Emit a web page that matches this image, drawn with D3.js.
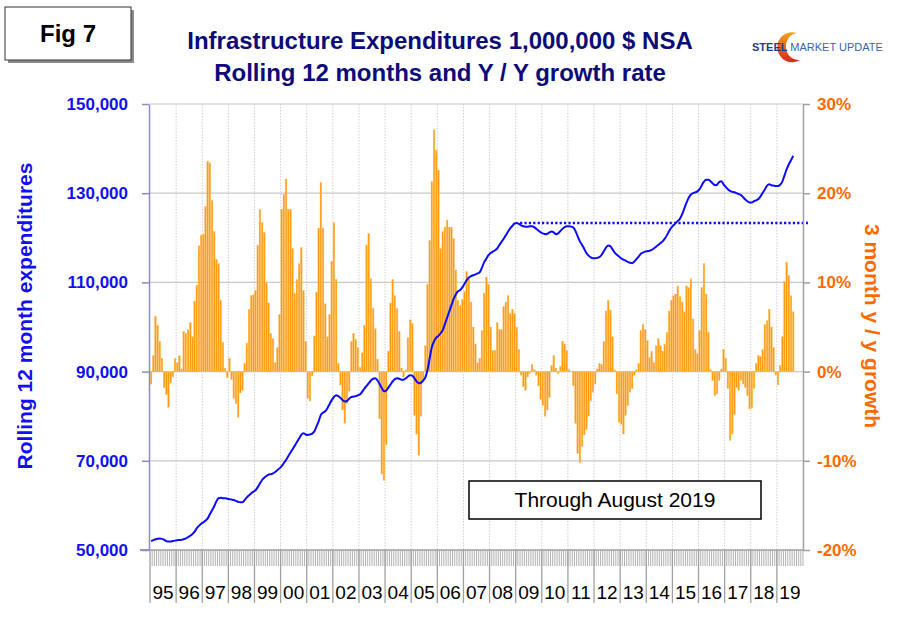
<!DOCTYPE html>
<html>
<head>
<meta charset="utf-8">
<script src="https://cdn.jsdelivr.net/npm/d3@7"></script>
<style>
  body { margin: 0; background: #fff; }
  text { font-family: "Liberation Sans", Arial, sans-serif; }
</style>
</head>
<body>
<div id="chart"></div>
<script>
// Data (Jan 1995 .. Aug 2019, monthly)
var years = ["95","96","97","98","99","00","01","02","03","04","05","06","07",
             "08","09","10","11","12","13","14","15","16","17","18","19"];

// rolling 12 month expenditures, $ millions
var expend = [
  52000,52200,52400,52500,52600,52500,52300,52000,51900,51900,52000,52100,
  52200,52250,52300,52400,52600,52900,53200,53600,54100,54900,55400,55900,
  56200,56600,57100,58000,58900,59800,60900,61600,61700,61600,61600,61500,
  61400,61300,61200,61000,60800,60700,60700,61200,61800,62300,62700,63100,
  63400,64100,64900,65700,66200,66600,66900,67000,67200,67500,67900,68300,
  68800,69500,70200,71000,71800,72600,73400,74200,75000,75800,76200,75900,
  75800,75900,76100,76600,77700,78900,80300,80800,81100,81800,82700,83600,
  84300,84700,84500,84100,83600,83300,83400,83900,84300,84400,84500,84700,
  84900,85500,86200,86800,87400,88000,88400,88500,88000,87200,86300,85600,
  85700,86400,87100,87800,88300,88500,88400,88200,88200,88500,88900,89200,
  89100,88500,87800,87400,87500,88000,88700,90400,93000,95500,96800,97600,
  98000,98600,99300,100700,102100,103500,104900,106300,107300,108000,108300,108900,
  109700,110500,111100,111400,111600,111800,112000,112300,113300,114500,115300,116100,
  116600,116900,117200,117600,118400,119100,119800,120600,121400,122100,122700,123200,
  123300,123100,122800,122600,122500,122500,122600,122600,122400,122000,121600,121200,
  121000,120800,120900,121200,121400,121200,120800,121000,121500,122000,122400,122600,
  122600,122500,122300,121500,120300,119200,118400,117500,116600,116000,115600,115400,
  115400,115500,115700,116200,117000,117800,118300,118100,117400,116700,116200,115800,
  115400,115100,114900,114600,114400,114300,114700,115200,115800,116400,116700,116900,
  117000,117100,117300,117600,118000,118400,118800,119200,119800,120600,121500,122300,
  122800,123300,123800,124300,125300,126600,127900,129000,129700,130000,130200,130400,
  130900,131800,132600,133000,133000,132700,132200,131800,131900,132500,132700,132000,
  131400,130900,130500,130300,130200,130000,129800,129600,129100,128600,128200,127900,
  127900,128200,128400,128700,129300,130100,130900,131700,132000,131800,131700,131600,
  131600,131900,132600,134000,135400,136500,137400,138400
];

// 3 month y/y growth, percent
var growth = [
  -1.4,1.8,6.2,5.2,3.4,1.5,-1.8,-2.6,-4.0,-1.3,-0.6,1.5,
  1.0,1.8,0.3,4.5,4.3,4.7,5.5,3.9,7.9,9.7,14.1,15.3,
  15.4,18.5,23.6,23.4,19.2,15.7,12.6,12.1,8.0,3.3,0.4,-0.7,
  1.5,-0.9,-3.0,-3.6,-5.1,-2.4,-2.1,0.9,3.2,7.0,8.5,8.6,
  9.1,14.2,18.2,16.7,15.6,10.0,7.7,4.3,3.7,1.0,2.7,6.4,
  18.2,19.9,21.6,18.2,18.2,13.8,8.8,10.3,12.1,13.9,9.1,3.4,
  -3.0,-3.3,-0.5,4.0,8.9,16.1,21.2,16.1,7.6,3.9,6.4,12.4,
  16.7,10.3,0.9,-1.5,-4.3,-5.8,-3.6,-2.2,3.4,4.3,3.6,2.7,
  0.5,2.1,5.2,14.2,15.5,10.4,7.1,4.8,1.4,-5.3,-11.5,-12.2,
  -8.2,2.3,7.7,10.3,8.5,7.1,4.5,0.4,-0.6,0.2,3.8,5.8,
  5.4,-4.9,-7.0,-9.4,-5.0,-1.0,2.9,9.8,14.7,21.3,27.1,24.8,
  22.6,13.8,15.7,16.2,17.0,16.2,16.2,14.9,11.4,8.0,7.4,8.1,
  9.0,11.2,10.4,7.8,5.0,3.1,1.0,1.5,4.6,8.8,10.6,9.8,
  5.0,2.4,2.4,5.5,4.7,4.7,7.3,7.8,8.5,6.5,7.0,6.5,
  5.0,2.5,-0.4,-1.7,-2.1,-0.6,-0.2,0.8,0.2,-0.4,-1.6,-3.1,
  -3.8,-5.0,-4.3,-2.9,0.7,1.8,0.4,-0.2,0.6,3.4,3.1,2.4,
  0.2,0.0,-1.6,-5.8,-9.2,-10.2,-8.4,-7.1,-6.5,-5.0,-3.3,-2.3,
  -1.4,0.3,0.9,0.8,3.4,6.8,8.0,6.9,3.9,0.2,-2.5,-5.7,
  -5.9,-7.0,-4.9,-3.8,-2.3,-1.9,-0.4,0.2,0.9,4.6,5.3,4.7,
  3.5,1.6,2.3,1.0,2.9,3.7,2.9,2.3,3.1,4.4,6.8,8.0,
  8.5,8.7,9.6,8.4,7.8,6.7,9.6,9.4,10.4,5.9,2.5,2.0,
  4.6,9.4,12.1,8.7,4.4,0.2,-1.0,-2.7,-2.5,-1.0,0.3,2.5,
  1.5,-1.9,-7.7,-7.0,-4.8,-1.8,-2.1,-1.0,-1.4,-1.8,-2.7,-4.2,
  -4.1,-1.9,0.9,1.8,1.7,2.5,5.3,5.7,7.0,5.0,2.7,-0.4,
  -1.5,0.7,3.9,10.1,12.3,10.8,8.5,6.7
];

var leftTicks = [50000, 70000, 90000, 110000, 130000, 150000];
var rightTicks = [-0.2, -0.1, 0, 0.1, 0.2, 0.3];
var priorPeak = 123300;     // level of the dotted line
var priorPeakMonth = 170;   // dotted line starts here

var svgWidth = 910;
var svgHeight = 622;
var plot = { left: 150, right: 803, top: 104, bottom: 550 };

var svg = d3.select("#chart")
  .append("svg")
  .attr("width", svgWidth)
  .attr("height", svgHeight);

// month categories for the whole axis (through Dec 2019)
var months = [];
years.forEach(function(y) {
  for (var m = 0; m < 12; m++) months.push(y + "-" + m);
});
var data = growth.map(function(g, i) {
  return { key: months[i], growth: g / 100, expend: expend[i] };
});

// Scales
var xScale = d3.scaleBand().domain(months).range([plot.left, plot.right]);
var yLeft = d3.scaleLinear().domain([50000, 150000]).range([plot.bottom, plot.top]);
var yRight = d3.scaleLinear().domain([-0.2, 0.3]).range([plot.bottom, plot.top]);
var bw = xScale.bandwidth();

// horizontal grid
svg.append("g").selectAll("line")
  .data(leftTicks.slice(1))
  .enter().append("line")
  .attr("x1", plot.left).attr("x2", plot.right)
  .attr("y1", d => yLeft(d)).attr("y2", d => yLeft(d))
  .attr("stroke", "#c8c8c8").attr("stroke-width", 1.2);

// vertical dotted grid at year boundaries
svg.append("g").selectAll("line")
  .data(years.slice(1))
  .enter().append("line")
  .attr("x1", d => xScale(d + "-0")).attr("x2", d => xScale(d + "-0"))
  .attr("y1", plot.top).attr("y2", plot.bottom)
  .attr("stroke", "#cfcfcf").attr("stroke-dasharray", "1.5,1.5");

// Bars (right axis)
svg.append("g").selectAll("rect")
  .data(data)
  .enter().append("rect")
  .attr("x", d => xScale(d.key) + bw * 0.1)
  .attr("width", bw * 0.8)
  .attr("y", d => yRight(Math.max(d.growth, 0)))
  .attr("height", d => Math.abs(yRight(d.growth) - yRight(0)))
  .attr("fill", "#ff9c14")
  .attr("stroke", "#ffc36b")
  .attr("stroke-width", 0.4);

// Line (left axis)
var line = d3.line()
  .x(d => xScale(d.key) + bw / 2)
  .y(d => yLeft(d.expend))
  .curve(d3.curveMonotoneX);

svg.append("path")
  .datum(data)
  .attr("d", line)
  .attr("fill", "none")
  .attr("stroke", "#0a0aff")
  .attr("stroke-width", 2);

// dotted line at the 2008/09 peak
svg.append("line")
  .attr("x1", xScale(months[priorPeakMonth]))
  .attr("x2", plot.right + 5)
  .attr("y1", yLeft(priorPeak)).attr("y2", yLeft(priorPeak))
  .attr("stroke", "#0a0aff")
  .attr("stroke-width", 2.5)
  .attr("stroke-dasharray", "2.2,2.2");

// Left axis
var leftAxis = d3.axisLeft(yLeft).tickValues(leftTicks)
  .tickFormat(d3.format(",")).tickSizeInner(7).tickSizeOuter(0).tickPadding(14);
var gl = svg.append("g")
  .attr("transform", `translate(${plot.left - 1}, 0)`)
  .call(leftAxis);
gl.select(".domain").attr("stroke", "#8a8ac8").attr("stroke-width", 1.5);
gl.selectAll(".tick line").attr("stroke", "#8a8ac8").attr("stroke-width", 1.5);
gl.selectAll(".tick text")
  .attr("fill", "#1010f0")
  .style("font-size", "17px")
  .style("font-weight", "bold");

// Right axis (plain hyphen for negatives, as in the original)
var rightAxis = d3.axisRight(yRight).tickValues(rightTicks)
  .tickFormat(d => Math.round(d * 100) + "%")
  .tickSizeInner(7).tickSizeOuter(0).tickPadding(7);
var gr = svg.append("g")
  .attr("transform", `translate(${plot.right}, 0)`)
  .call(rightAxis);
gr.select(".domain").attr("stroke", "#a0a0a0").attr("stroke-width", 1.5);
gr.selectAll(".tick line").attr("stroke", "#a0a0a0").attr("stroke-width", 1.5);
gr.selectAll(".tick text")
  .attr("fill", "#ff6a00")
  .style("font-size", "17px")
  .style("font-weight", "bold");

// Bottom axis: month ticks, year separators, year labels
var gx = svg.append("g");
gx.selectAll(".mtick")
  .data(months)
  .enter().append("line")
  .attr("x1", d => xScale(d) + bw).attr("x2", d => xScale(d) + bw)
  .attr("y1", plot.bottom).attr("y2", plot.bottom + 16)
  .attr("stroke", "#a8a8a8").attr("stroke-width", 0.9);
gx.selectAll(".ytick")
  .data(years)
  .enter().append("line")
  .attr("x1", d => xScale(d + "-0")).attr("x2", d => xScale(d + "-0"))
  .attr("y1", plot.bottom).attr("y2", plot.bottom + 53)
  .attr("stroke", "#a0a0a0").attr("stroke-width", 1.3);
gx.append("line")
  .attr("x1", plot.left - 10).attr("x2", plot.right)
  .attr("y1", plot.bottom).attr("y2", plot.bottom)
  .attr("stroke", "#a0a0a0").attr("stroke-width", 1.5);
gx.append("line")
  .attr("x1", plot.left - 10).attr("x2", plot.left)
  .attr("y1", plot.bottom).attr("y2", plot.bottom)
  .attr("stroke", "#8a8ac8").attr("stroke-width", 1.5);
gx.selectAll(".ylabel")
  .data(years)
  .enter().append("text")
  .attr("x", d => xScale(d + "-6"))
  .attr("y", plot.bottom + 49)
  .attr("text-anchor", "middle")
  .style("font-size", "19px")
  .attr("fill", "#000")
  .text(d => d);

// Axis titles
svg.append("text")
  .attr("transform", "translate(24, 316) rotate(-90)")
  .attr("text-anchor", "middle")
  .attr("dominant-baseline", "central")
  .style("font-size", "21px").style("font-weight", "bold")
  .attr("fill", "#1010f0")
  .text("Rolling 12 month expenditures");

svg.append("text")
  .attr("transform", "translate(872, 326) rotate(90)")
  .attr("text-anchor", "middle")
  .attr("dominant-baseline", "central")
  .style("font-size", "21px").style("font-weight", "bold")
  .attr("fill", "#ff6a00")
  .text("3 month y / y growth");

// Title
svg.append("text")
  .attr("x", 440).attr("y", 49)
  .attr("text-anchor", "middle")
  .style("font-size", "24px").style("font-weight", "bold")
  .attr("fill", "#0b0b7a")
  .text("Infrastructure Expenditures 1,000,000 $ NSA");
svg.append("text")
  .attr("x", 440).attr("y", 81)
  .attr("text-anchor", "middle")
  .style("font-size", "24px").style("font-weight", "bold")
  .attr("fill", "#0b0b7a")
  .text("Rolling 12 months and Y / Y growth rate");

// Fig box
svg.append("rect").attr("x", 8).attr("y", 10).attr("width", 126).attr("height", 53).attr("fill", "#8c8c8c");
svg.append("rect").attr("x", 5).attr("y", 7).attr("width", 126).attr("height", 53)
  .attr("fill", "#fff").attr("stroke", "#333").attr("stroke-width", 1);
svg.append("text")
  .attr("x", 68).attr("y", 42)
  .attr("text-anchor", "middle")
  .style("font-size", "24px").style("font-weight", "bold")
  .attr("fill", "#000")
  .text("Fig 7");

// Logo
var grad = svg.append("defs").append("linearGradient")
  .attr("id", "swoosh").attr("x1", 0).attr("y1", 0).attr("x2", 0).attr("y2", 1);
grad.append("stop").attr("offset", "0%").attr("stop-color", "#f8a21c");
grad.append("stop").attr("offset", "100%").attr("stop-color", "#d9261c");
svg.append("path")
  .attr("d", "M 797 33 A 15 15 0 1 0 800 60 A 12 13 0 1 1 797 33 Z")
  .attr("fill", "url(#swoosh)");
var logo = svg.append("text")
  .attr("x", 752).attr("y", 51)
  .style("font-size", "11px");
logo.append("tspan").attr("fill", "#1d3f8f").style("font-weight", "bold").text("STEEL ");
logo.append("tspan").attr("fill", "#3a64a8").text("MARKET UPDATE");

// Through box
svg.append("rect")
  .attr("x", 469).attr("y", 481).attr("width", 292).attr("height", 38)
  .attr("fill", "#fff").attr("stroke", "#000").attr("stroke-width", 1.5);
svg.append("text")
  .attr("x", 615).attr("y", 507)
  .attr("text-anchor", "middle")
  .style("font-size", "21px")
  .attr("fill", "#000")
  .text("Through August 2019");
</script>
</body>
</html>
